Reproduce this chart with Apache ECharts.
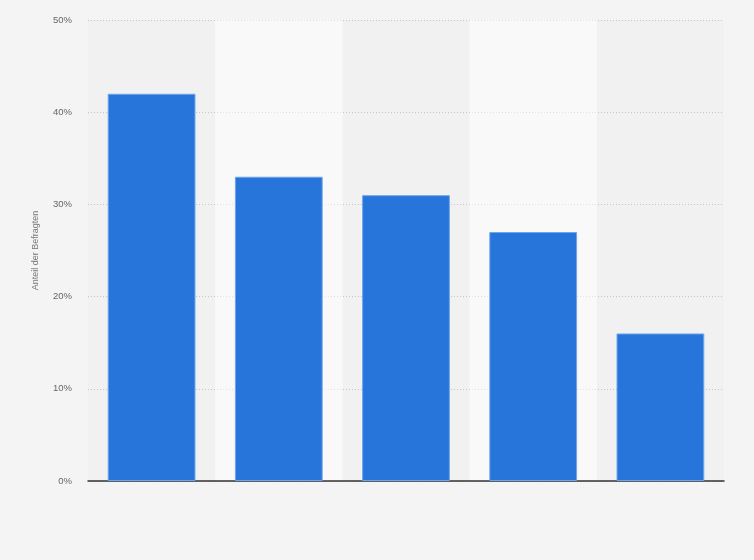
<!DOCTYPE html>
<html>
<head>
<meta charset="utf-8">
<script src="https://cdn.jsdelivr.net/npm/echarts@6/dist/echarts.min.js"></script>
<style>
html,body{margin:0;padding:0;background:#f4f4f4;}
#c{width:754px;height:560px;}
</style>
</head>
<body>
<div id="c"></div>
<script>
var categories = ['Kategorie 1', 'Kategorie 2', 'Kategorie 3', 'Kategorie 4', 'Kategorie 5'];
var values = [42, 33, 31, 27, 16];
var yTicks = [0, 10, 20, 30, 40, 50];

var chart = echarts.init(document.getElementById('c'));
chart.setOption({
  backgroundColor: '#f4f4f4',
  animation: false,
  grid: { left: 88, right: 30, top: 20, bottom: 79, containLabel: false },
  xAxis: {
    type: 'category',
    data: categories,
    axisLine: { show: true, lineStyle: { color: '#333', width: 1.5 } },
    axisTick: { show: false },
    axisLabel: { show: false },
    splitArea: { show: true, areaStyle: { color: ['rgba(0,0,0,0.01)', 'rgba(255,255,255,0.45)'] } }
  },
  yAxis: {
    type: 'value',
    min: yTicks[0],
    max: yTicks[yTicks.length - 1],
    interval: 10,
    name: 'Anteil der Befragten',
    nameLocation: 'middle',
    nameGap: 48,
    nameTextStyle: { color: '#777', fontSize: 9, fontFamily: 'Arial, Liberation Sans, sans-serif' },
    axisLine: { show: false },
    axisTick: { show: false },
    axisLabel: { formatter: '{value}%', color: '#666', fontSize: 9.5, margin: 16, fontFamily: 'Arial, Liberation Sans, sans-serif' },
    splitLine: { show: true, lineStyle: { color: '#c8c8c8', type: [1, 2], width: 1 } }
  },
  series: [{
    type: 'bar',
    data: values,
    barWidth: '69%',
    itemStyle: { color: '#2775db', borderColor: '#6fa4ea', borderWidth: 1 }
  }]
});
</script>
</body>
</html>
